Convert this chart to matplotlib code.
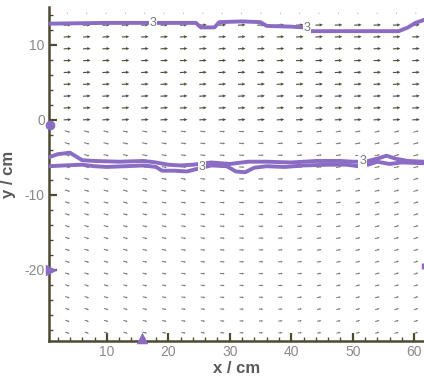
import numpy as np
import matplotlib
matplotlib.use("Agg")
import matplotlib.pyplot as plt

plt.rcParams["font.family"] = ["Liberation Sans", "DejaVu Sans"]
plt.rcParams["axes.unicode_minus"] = False

# ---- data ----
x_grid = np.linspace(3.6, 60.3, 19)          # vector column positions (cm)
y_grid = np.linspace(-28.4, 14.2, 28)        # vector row positions (cm), bottom -> top

# per-row speed (bottom row first) and per-row vertical component
row_u = [0.55, 0.57, 0.58, 0.60, 0.60, 0.62, 0.62, 0.63, 0.64, 0.65,
         0.65, 0.66, 0.67, 0.68, 0.70, 0.70, 0.72, 0.72, 1.0, 1.0,
         1.0, 1.0, 1.0, 1.0, 1.0, 1.0, 1.0, 0.15]
row_v = [0.0] * 18 + [0.05] * 9 + [0.0]
# tilt of the slow lower-layer vectors, per column (left -> right)
lower_tilt = [-0.20, -0.19, -0.18, -0.16, -0.14, -0.12, -0.10, -0.08, -0.05, -0.03,
              0.0, 0.03, 0.06, 0.09, 0.12, 0.14, 0.16, 0.18, 0.19]
n_lower = 18

upper_x = [0.6, 10, 20, 24.5, 25.3, 27.5, 28.3, 32, 35, 36, 40, 42, 43, 50, 57.5, 59, 60.2, 61.6]
upper_y = [12.8, 12.9, 12.9, 12.9, 12.3, 12.3, 13.0, 13.1, 13.0, 12.5, 12.4, 12.3, 11.8, 11.8, 11.8, 12.3, 12.9, 13.3]

lowA_x = [0.6, 2, 4, 6, 8, 12, 16, 18, 20, 22, 24, 27, 30, 33, 36, 40, 44, 48, 50, 52, 54, 55.5, 57, 59, 61.6]
lowA_y = [-5.0, -4.6, -4.4, -5.4, -5.5, -5.6, -5.5, -5.7, -6.0, -6.1, -6.0, -5.7, -5.9, -5.6, -5.6,
          -5.7, -5.5, -5.5, -5.6, -5.6, -5.2, -4.8, -5.2, -5.5, -5.6]
lowB_x = [0.6, 3, 6, 8, 10, 13, 16, 18, 19, 21, 23, 25, 27, 29.5, 31, 32.5, 34, 36, 39, 42, 46,
          49, 51, 52.5, 54, 56, 58, 61.6]
lowB_y = [-6.2, -6.1, -6.0, -6.2, -6.3, -6.2, -6.1, -6.3, -6.8, -6.8, -6.9, -6.5, -6.1, -6.2, -6.9,
          -7.0, -6.4, -6.2, -6.3, -6.1, -6.0, -6.0, -6.2, -6.0, -5.6, -5.9, -5.7, -5.8]

label_x = [17.5, 42.6, 25.5, 51.6]
label_y = [12.9, 12.2, -6.3, -5.5]
label_txt = ["3", "3", "3", "3"]

# small contour fragments touching the borders
frag_x = [0.7, 0.7, 15.7, 61.4]
frag_y = [-0.7, -20.0, -29.2, -19.5]
frag_m = ["o", ">", "^", "|"]

# ---- figure ----
fig = plt.figure(figsize=(4.24, 3.76), dpi=100)
ax = fig.add_axes([0.1156, 0.093, 0.8844, 0.888])
ax.set_xlim(0.6, 61.6)
ax.set_ylim(-29.5, 15.0)

X, Y = np.meshgrid(x_grid, y_grid)
U = np.array(row_u)[:, None] * np.ones((1, len(x_grid)))
V = np.array(row_v)[:, None] * np.ones((1, len(x_grid)))
V[:n_lower, :] += np.array(lower_tilt)[None, :]

up = slice(n_lower, None)
lo = slice(0, n_lower)
ax.quiver(X[up], Y[up], U[up], V[up], pivot="middle", color="#4e4c3a", units="dots",
          width=1.1, headwidth=3.0, headlength=3.2, headaxislength=2.8,
          scale_units="inches", scale=1 / 0.075, zorder=2)
ax.quiver(X[lo], Y[lo], U[lo], V[lo], pivot="middle", color="#77776a", units="dots",
          width=1.0, headwidth=2.2, headlength=2.0, headaxislength=1.8,
          scale_units="inches", scale=1 / 0.075, zorder=2)

purple = "#8a6cc4"
for xs, ys in [(upper_x, upper_y), (lowA_x, lowA_y), (lowB_x, lowB_y)]:
    ax.plot(xs, ys, color=purple, lw=2.8, solid_joinstyle="round", solid_capstyle="round", zorder=3)
for xx, yy, mm in zip(frag_x, frag_y, frag_m):
    ax.plot([xx], [yy], marker=mm, color=purple, ms=4.5, mew=2.5, clip_on=False, zorder=4)
for xx, yy, tt in zip(label_x, label_y, label_txt):
    ax.text(xx, yy, tt, color="#777777", fontsize=9, ha="center", va="center", zorder=5,
            bbox=dict(boxstyle="square,pad=0.05", fc="white", ec="none"))

for s in ["top", "right"]:
    ax.spines[s].set_visible(False)
for s in ["left", "bottom"]:
    ax.spines[s].set_color("#4d4a30")
    ax.spines[s].set_linewidth(1.8)

ax.set_xticks([10, 20, 30, 40, 50, 60])
ax.set_yticks([-20, -10, 0, 10])
ax.set_xticks(np.arange(2, 62, 2), minor=True)
ax.set_yticks(np.arange(-28, 15, 2), minor=True)
ax.tick_params(which="major", direction="in", length=6, width=1.6, color="#4d4a30",
               labelcolor="#8a8a8a", labelsize=10, pad=3)
ax.tick_params(which="minor", direction="in", length=3, width=1.0, color="#4d4a30")
ax.set_xlabel("x / cm", fontsize=12, fontweight="bold", color="#5a5a5a")
ax.set_ylabel("y / cm", fontsize=12, fontweight="bold", color="#5a5a5a")
ax.xaxis.set_label_coords(0.5, -0.06)
ax.yaxis.set_label_coords(-0.088, 0.5)

fig.savefig("out.png", dpi=100)
